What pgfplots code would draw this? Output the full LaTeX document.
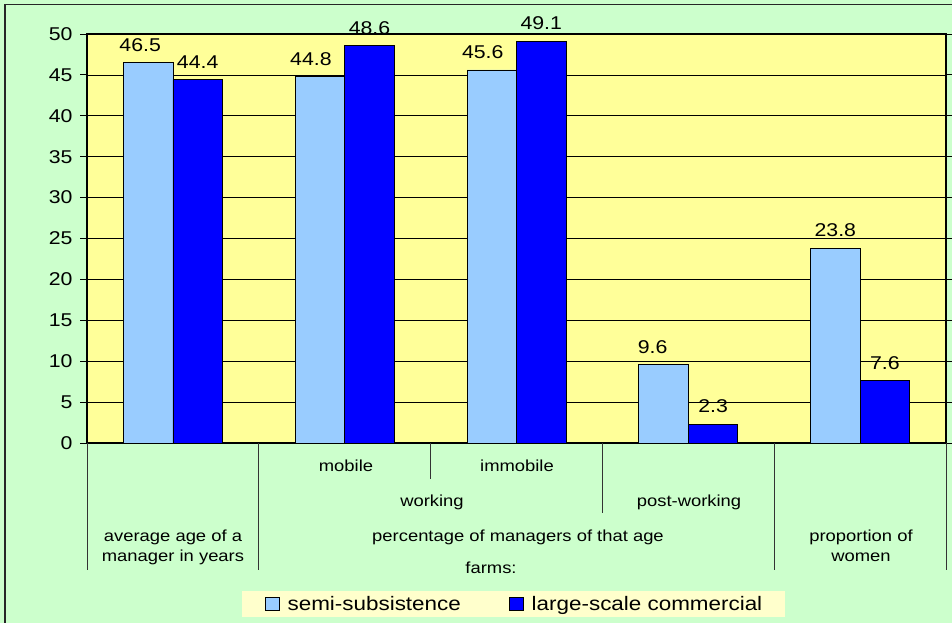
\documentclass[border=0pt]{standalone}
\usepackage{pgfplots}
\pgfplotsset{compat=1.18}
\usepackage{pgfplotstable}
\usepackage{fontspec}
\setmainfont{Liberation Sans}[FakeStretch=1.15]

\definecolor{outerbg}{HTML}{CCFFCC}
\definecolor{plotbg}{HTML}{FFFF99}
\definecolor{legendbg}{HTML}{FFFFCC}
\definecolor{semi}{HTML}{99CCFF}
\definecolor{large}{HTML}{0000FF}

% x  value  label shift
\pgfplotstableread{
x y dx
0 46.5 -8
1 44.8 -9
2 45.6 -9
3 9.6 -11
4 23.8 0
}\semitab
\pgfplotstableread{
x y dx
0 44.4 0
1 48.6 0
2 49.1 0
3 2.3 0
4 7.6 0
}\largetab

\newcommand\lblfont{\fontsize{16}{18}\selectfont}
\newcommand\sep[2]{\draw[black!80, line width=1pt] (axis cs:#1,0) -- ([yshift=-#2pt]axis cs:#1,0);}

\begin{document}
\begin{tikzpicture}[x=1pt,y=1pt]
\fill[outerbg] (0,0) rectangle (952,623);
\draw[black!85, line width=1.5pt] (5,0) -- (5,618.5) -- (952,618.5);
\begin{axis}[
  at={(87pt,180pt)}, anchor=south west,
  scale only axis, width=859pt, height=409pt,
  xmin=-0.5, xmax=4.5, ymin=0, ymax=50,
  xtick=\empty, ytick={0,5,...,50},
  ybar=0pt, bar width=49.5pt,
  ymajorgrids, grid style={black, line width=0.7pt},
  axis line style={black, line width=1.3pt},
  tick style={black, line width=0.8pt},
  tick align=outside, major tick length=7pt,
  y tick label style={font=\fontsize{18.5}{20}\selectfont, xshift=-4pt},
  /pgf/number format/assume math mode=true,
  axis background/.style={fill=plotbg},
  clip=false,
  nodes near coords,
  visualization depends on={\thisrow{dx} \as \dx},
  every node near coord/.append style={font=\fontsize{18.5}{20}\selectfont, black, yshift=7.5pt, xshift=\dx pt},
  legend style={at={(0.4965,-0.394)}, anchor=center, fill=legendbg, draw=none,
    font=\fontsize{19.5}{22}\selectfont, legend columns=2,
    inner xsep=23pt, inner ysep=3pt,
    nodes={inner xsep=0pt},
    /tikz/every odd column/.append style={column sep=8pt},
    /tikz/every even column/.append style={column sep=48pt}},
  legend image code/.code={\draw[#1, draw=black, line width=0.9pt] (0pt,-6pt) rectangle (14pt,7pt);},
]
\addplot[fill=semi, draw=black, line width=0.8pt] table[x=x, y=y] {\semitab};
\addplot[fill=large, draw=black, line width=0.8pt] table[x=x, y=y] {\largetab};
\legend{semi-subsistence, large-scale commercial}
\sep{-0.5}{127}
\sep{0.5}{127}
\sep{3.5}{127}
\sep{4.5}{127}
\sep{1.5}{36}
\sep{2.5}{70}
\end{axis}
\begin{scope}[every node/.style={font=\lblfont, anchor=base, inner sep=0pt}]
\node at (346,151) {mobile};
\node at (517,151) {immobile};
\node at (432,116) {working};
\node at (689,116) {post-working};
\node at (173,81) {average age of a};
\node at (173,61) {manager in years};
\node at (518,81) {percentage of managers of that age};
\node at (861,81) {proportion of};
\node at (861,61) {women};
\node at (491,49) {farms:};
\end{scope}
\pgfresetboundingbox
\path[use as bounding box] (0,0) rectangle (952,623);
\end{tikzpicture}
\end{document}
